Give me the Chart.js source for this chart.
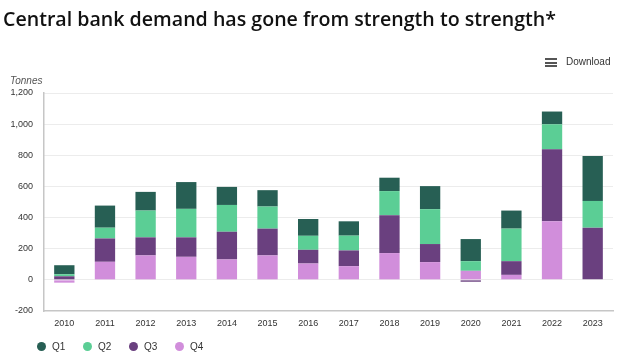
<!DOCTYPE html>
<html>
<head>
<meta charset="utf-8">
<script src="https://cdn.jsdelivr.net/npm/chart.js@4.4.1/dist/chart.umd.min.js"></script>
<style>
  html, body { margin: 0; padding: 0; background: #fff; overflow: hidden; }
  #wrap { position: relative; width: 624px; height: 362px; }
  #chart { position: absolute; left: 0; top: 0; }
  .title { position: absolute; left: 3px; top: 9px; margin: 0; font: 600 19.6px/20px "Open Sans", sans-serif; color: #111; white-space: nowrap; }
  .unit { position: absolute; left: 10px; top: 75px; font: italic 10px/12px "Liberation Sans", Arial, sans-serif; color: #555; }
  .download { position: absolute; left: 545px; top: 56px; font: 10px/12px "Liberation Sans", Arial, sans-serif; color: #333; }
  .download .bars { position: absolute; left: 0; top: 2px; width: 12px; }
  .download .bars i { display: block; height: 2px; background: #555; margin-bottom: 1.5px; }
  .download span { position: absolute; left: 21px; top: 0; }
  .legend { position: absolute; left: 37px; top: 341px; font: 10px/12px "Liberation Sans", Arial, sans-serif; color: #333; }
  .legend div { position: absolute; top: 0; white-space: nowrap; }
  .legend b { display: inline-block; width: 9px; height: 9px; border-radius: 50%; vertical-align: -1px; margin-right: 6px; }
</style>
</head>
<body>
<div id="wrap">
  <canvas id="chart" width="624" height="362"></canvas>
  <h1 class="title">Central bank demand has gone from strength to strength*</h1>
  <div class="unit">Tonnes</div>
  <div class="download"><div class="bars"><i></i><i></i><i></i></div><span>Download</span></div>
  <div class="legend" id="legend"></div>
</div>
<script>
// dados (toneladas por trimestre)
const years = ['2010', '2011', '2012', '2013', '2014', '2015', '2016', '2017', '2018', '2019', '2020', '2021', '2022', '2023'];
const q1 = [58, 142, 120, 172, 116, 105, 108, 92, 86, 148, 142, 116, 82, 288];
const q2 = [13, 69, 172, 183, 172, 142, 90, 95, 155, 224, 62, 209, 161, 172];
const q3 = [23, 150, 116, 125, 178, 172, 88, 101, 243, 116, -12, 88, 462, 335];
const q4 = [-18, 116, 157, 148, 131, 157, 105, 88, 172, 114, 58, 32, 376, null];
const yTicks = [-200, 0, 200, 400, 600, 800, 1000, 1200];

const colors = { Q1: '#275F54', Q2: '#5BCE95', Q3: '#6A407F', Q4: '#D18EDB' };

// legenda em html, na ordem Q1..Q4
const legend = document.getElementById('legend');
['Q1', 'Q2', 'Q3', 'Q4'].forEach((q, i) => {
  const item = document.createElement('div');
  item.style.left = (i * 46) + 'px';
  item.innerHTML = '<b style="background:' + colors[q] + '"></b>' + q;
  legend.appendChild(item);
});

Chart.defaults.font.family = '"Liberation Sans", Arial, sans-serif';
Chart.defaults.color = '#333';

const ctx = document.getElementById('chart').getContext('2d');
new Chart(ctx, {
  type: 'bar',
  data: {
    labels: years,
    // Q4 primeiro para ficar na base da pilha
    datasets: [
      { label: 'Q4', data: q4, backgroundColor: colors.Q4 },
      { label: 'Q3', data: q3, backgroundColor: colors.Q3 },
      { label: 'Q2', data: q2, backgroundColor: colors.Q2 },
      { label: 'Q1', data: q1, backgroundColor: colors.Q1 },
    ],
  },
  options: {
    responsive: false,
    animation: false,
    devicePixelRatio: 1,
    layout: { padding: { left: 10, right: 11, top: 93, bottom: 31 } },
    datasets: { bar: { barPercentage: 0.5, categoryPercentage: 1, borderWidth: 0 } },
    plugins: { legend: { display: false }, tooltip: { enabled: false } },
    scales: {
      x: {
        stacked: true,
        grid: { display: false, drawTicks: false },
        border: { display: true, color: '#c6c6c6', width: 1.5 },
        ticks: { padding: 7, font: { size: 9 }, maxRotation: 0, autoSkip: false },
        afterFit: (axis) => { axis.height = 20; },
      },
      y: {
        stacked: true,
        min: -200,
        max: 1200,
        afterBuildTicks: (axis) => { axis.ticks = yTicks.map(v => ({ value: v })); },
        grid: {
          drawTicks: false,
          color: (c) => (c.tick && c.tick.value === -200 ? 'rgba(0,0,0,0)' : '#d9d9d9'),
        },
        border: { display: true, color: '#c6c6c6', width: 1.5, dash: [1, 1] },
        ticks: {
          padding: 11,
          font: { size: 9 },
          callback: (v) => v.toLocaleString('en-US'),
        },
        afterFit: (axis) => { axis.width = 34; },
      },
    },
  },
});
</script>
</body>
</html>
